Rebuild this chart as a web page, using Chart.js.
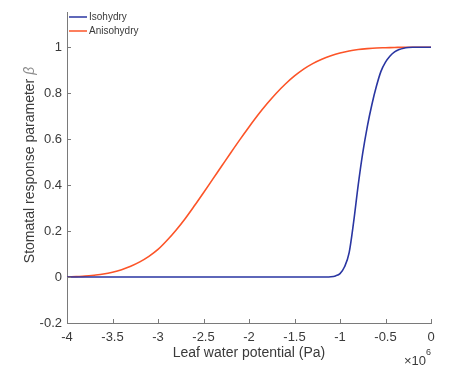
<!DOCTYPE html>
<html lang="en">
<head>
    <meta charset="UTF-8">
    <title>Stomatal response parameter</title>
    <script src="https://cdn.jsdelivr.net/npm/chart.js"></script>
    <style>
        body { margin: 0; background: #fff; }
        #wrap { width: 453px; height: 367px; }
    </style>
</head>
<body>
    <div id="wrap"><canvas id="betaChart" width="453" height="367"></canvas></div>
    <script>
        // leaf water potential in units of 1e6 Pa (axis shows x10^6)
        const isoX = [-4, -1.2, -1.15, -1.1, -1.05, -1.0, -0.95, -0.9, -0.85, -0.8, -0.75, -0.7, -0.65, -0.6, -0.55, -0.5, -0.45, -0.4, -0.35, -0.3, -0.25, -0.2, 0];
        const isoY = [0, 0, 0, 0.001, 0.005, 0.015, 0.045, 0.105, 0.24, 0.40, 0.54, 0.655, 0.75, 0.83, 0.895, 0.935, 0.962, 0.98, 0.99, 0.996, 0.999, 1.0, 1.0];

        const anisoX = [-4, -3.9, -3.8, -3.7, -3.6, -3.5, -3.4, -3.3, -3.2, -3.1, -3.0, -2.9, -2.8, -2.7, -2.6, -2.5, -2.4, -2.3, -2.2, -2.1,
                        -2.0, -1.9, -1.8, -1.7, -1.6, -1.5, -1.4, -1.3, -1.2, -1.1, -1.0, -0.9, -0.8, -0.7, -0.6, -0.5, -0.4, -0.3, -0.2, -0.1, 0];
        const anisoY = [0, 0.002, 0.004, 0.008, 0.013, 0.021, 0.032, 0.047, 0.066, 0.09, 0.12, 0.16, 0.205, 0.255, 0.31, 0.367, 0.425, 0.483, 0.541, 0.598,
                        0.653, 0.706, 0.755, 0.8, 0.84, 0.875, 0.905, 0.929, 0.948, 0.963, 0.975, 0.984, 0.99, 0.994, 0.997, 0.998, 0.999, 1.0, 1.0, 1.0, 1.0];

        const xTicks = [-4, -3.5, -3, -2.5, -2, -1.5, -1, -0.5, 0];
        const yTicks = [-0.2, 0, 0.2, 0.4, 0.6, 0.8, 1];

        const axisColor = '#7a7a7a';
        const textColor = '#3a3a3a';
        const fontFamily = '"Liberation Sans", Arial, Helvetica, sans-serif';

        function toPoints(xs, ys) {
            return xs.map((x, i) => ({ x: x, y: ys[i] }));
        }

        // inward ticks, axis titles, legend and exponent label, MATLAB style
        const matlabLook = {
            id: 'matlabLook',
            afterDraw(chart) {
                const c = chart.ctx;
                const xs = chart.scales.x;
                const ys = chart.scales.y;
                const area = chart.chartArea;
                c.save();
                c.strokeStyle = axisColor;
                c.lineWidth = 1;
                c.beginPath();
                xTicks.forEach(t => {
                    const px = Math.round(xs.getPixelForValue(t)) + 0.5;
                    c.moveTo(px, area.bottom);
                    c.lineTo(px, area.bottom - 4);
                });
                yTicks.forEach(t => {
                    const py = Math.round(ys.getPixelForValue(t)) + 0.5;
                    c.moveTo(area.left, py);
                    c.lineTo(area.left + 4, py);
                });
                c.stroke();

                c.fillStyle = textColor;
                c.font = '14px ' + fontFamily;
                c.textAlign = 'center';
                c.textBaseline = 'middle';
                c.fillText('Leaf water potential (Pa)', (area.left + area.right) / 2, 353);

                // y title with italic beta
                c.save();
                c.translate(30, 165);
                c.rotate(-Math.PI / 2);
                const main = 'Stomatal response parameter ';
                c.font = '14px ' + fontFamily;
                const w1 = c.measureText(main).width;
                c.font = 'italic 14px ' + fontFamily;
                const w2 = c.measureText('\u03B2').width;
                let sx = -(w1 + w2) / 2;
                c.textAlign = 'left';
                c.font = '14px ' + fontFamily;
                c.fillText(main, sx, 0);
                c.fillStyle = '#8a8a8a';
                c.font = 'italic 14px ' + fontFamily;
                c.fillText('\u03B2', sx + w1, 0);
                c.restore();

                // x10^6
                c.fillStyle = textColor;
                c.textAlign = 'left';
                c.font = '13px ' + fontFamily;
                c.fillText('\u00D710', 404, 361);
                c.font = '9px ' + fontFamily;
                c.fillText('6', 426, 353);

                // legend
                c.font = '10px ' + fontFamily;
                chart.data.datasets.forEach((ds, i) => {
                    const ly = 17 + i * 14;
                    c.strokeStyle = ds.borderColor;
                    c.lineWidth = 1.5;
                    c.beginPath();
                    c.moveTo(69, ly);
                    c.lineTo(87, ly);
                    c.stroke();
                    c.fillStyle = textColor;
                    c.fillText(ds.label, 89, ly);
                });
                c.restore();
            }
        };

        const ctx = document.getElementById('betaChart').getContext('2d');
        new Chart(ctx, {
            type: 'scatter',
            data: {
                datasets: [
                    {
                        label: 'Isohydry',
                        data: toPoints(isoX, isoY),
                        borderColor: '#2a36a2',
                        borderWidth: 1.6,
                        showLine: true,
                        pointRadius: 0,
                        cubicInterpolationMode: 'monotone'
                    },
                    {
                        label: 'Anisohydry',
                        data: toPoints(anisoX, anisoY),
                        borderColor: '#fc5428',
                        borderWidth: 1.6,
                        showLine: true,
                        pointRadius: 0,
                        cubicInterpolationMode: 'monotone'
                    }
                ]
            },
            options: {
                responsive: false,
                animation: false,
                layout: { padding: { left: 0, right: 22, top: 7, bottom: 0 } },
                plugins: {
                    legend: { display: false },
                    tooltip: { enabled: false }
                },
                scales: {
                    x: {
                        type: 'linear',
                        min: -4,
                        max: 0,
                        grid: { display: false, drawTicks: false, tickLength: 0 },
                        border: { display: true, color: axisColor, width: 1 },
                        afterFit: s => { s.height = 44; },
                        afterBuildTicks: s => { s.ticks = xTicks.map(v => ({ value: v })); },
                        ticks: {
                            padding: 7,
                            color: textColor,
                            font: { family: fontFamily, size: 13 },
                            maxRotation: 0,
                            callback: v => String(v)
                        }
                    },
                    y: {
                        type: 'linear',
                        min: -0.2,
                        max: 1.15,
                        grid: { display: false, drawTicks: false, tickLength: 0 },
                        border: { display: true, color: axisColor, width: 1 },
                        afterFit: s => { s.width = 67; },
                        afterBuildTicks: s => { s.ticks = yTicks.map(v => ({ value: v })); },
                        ticks: {
                            padding: 5,
                            color: textColor,
                            font: { family: fontFamily, size: 13 },
                            callback: v => String(Math.round(v * 10) / 10)
                        }
                    }
                }
            },
            plugins: [matlabLook]
        });
    </script>
</body>
</html>
